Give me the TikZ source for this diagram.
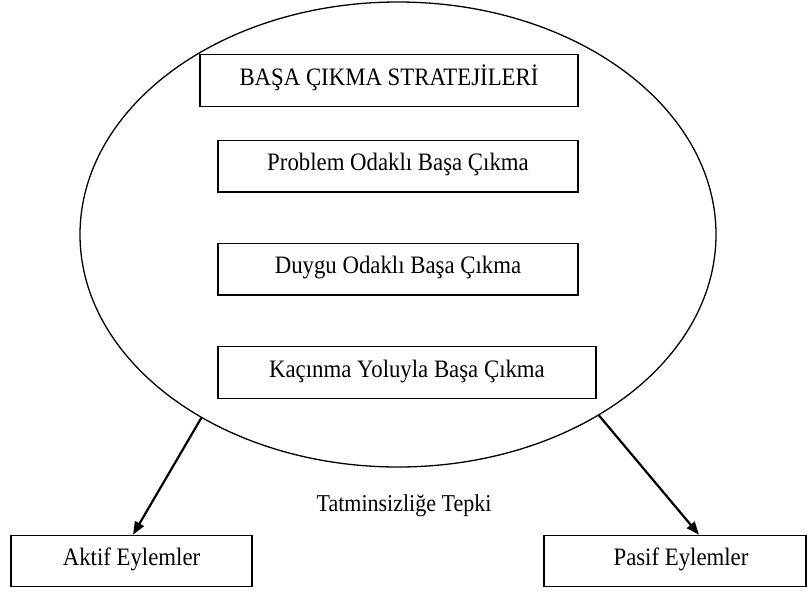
\documentclass[tikz,border=0pt]{standalone}
\usepackage{fontspec}
\usepackage{graphicx}
\setmainfont{Liberation Serif}
\usetikzlibrary{shapes.geometric,arrows.meta}

% slightly tall lettering
\newcommand{\tallword}[1]{\scalebox{1}[1.1]{#1}}

\begin{document}
\begin{tikzpicture}[x=1pt,y=-1pt,
  labelfont/.style={font=\fontsize{22.8}{26}\selectfont},
  box/.style={draw,line width=1.1pt,rectangle,inner sep=0pt,
    minimum height=51.5pt,labelfont,text height=15pt,text depth=6pt},
  ring/.style={draw,ellipse,line width=1.3pt,inner sep=0pt},
  arrowline/.style={line width=2.2pt,-{Triangle[length=13pt,width=10pt]}}
]
\useasboundingbox (0,0) rectangle (809,592);

% outer ellipse holding the strategies
\node[ring,minimum width=636pt,minimum height=465pt] (ring) at (398,234.5) {};

% strategy boxes
\node[box,minimum width=378pt] (title) at (389,80.5) {\tallword{BAŞA ÇIKMA STRATEJİLERİ}};
\node[box,minimum width=360pt] (problem) at (398,166.2) {\tallword{Problem Odaklı Başa Çıkma}};
\node[box,minimum width=360pt] (duygu) at (398,269.2) {\tallword{Duygu Odaklı Başa Çıkma}};
\node[box,minimum width=378pt] (kacinma) at (407,372.5) {\tallword{Kaçınma Yoluyla Başa Çıkma}};

% outcome boxes
\node[box,minimum width=241pt] (aktif) at (131.5,561) {\tallword{Aktif Eylemler}};
\node[box,minimum width=262pt] (pasif) at (675,561) {\hspace*{12pt}\tallword{Pasif Eylemler}};

% middle caption
\node[font=\fontsize{22}{26}\selectfont,anchor=base,inner sep=0pt] (tepki) at (404,511.5) {\tallword{Tatminsizliğe Tepki}};

% arrows from the ellipse to the outcomes
\draw[arrowline] (ring.-137.8) -- ([xshift=1.5pt]aktif.north);
\draw[arrowline] (ring.-42.2) -- ([xshift=24pt]pasif.north);
\end{tikzpicture}
\end{document}
